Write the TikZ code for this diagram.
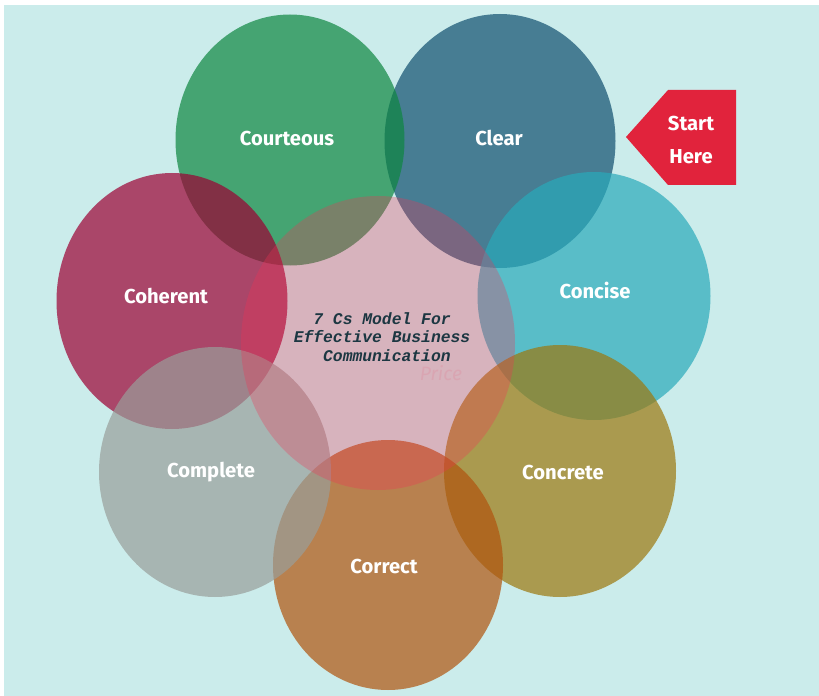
\documentclass[tikz,border=0pt]{standalone}
\usepackage{fontspec}
\setmainfont{Fira Sans}
\newfontfamily\monofont{Liberation Mono}
\usetikzlibrary{positioning}
\definecolor{bgcyan}{RGB}{203,236,235}
\definecolor{clearc}{RGB}{16,79,111}
\definecolor{courteousc}{RGB}{13,134,64}
\definecolor{concisec}{RGB}{41,170,186}
\definecolor{concretec}{RGB}{156,120,14}
\definecolor{correctc}{RGB}{177,84,14}
\definecolor{completec}{RGB}{153,158,154}
\definecolor{coherentc}{RGB}{156,0,50}
\definecolor{hubc}{RGB}{243,49,85}
\definecolor{startc}{RGB}{225,35,60}
\definecolor{hubtext}{RGB}{28,55,66}
\tikzset{
	bubble/.style={fill=#1, fill opacity=0.7},
	lbl/.style={text=white, font=\fontsize{11.5}{13}\selectfont\bfseries},
	hubtxt/.style={text=hubtext, align=center,
			font=\monofont\fontsize{9.3}{10.6}\selectfont\bfseries\itshape}
}

\begin{document}
\begin{tikzpicture}[x=0.02cm, y=-0.02cm]
	\useasboundingbox (0,0) rectangle (819,696);
	% Backdrop
	\fill[white] (0,0) rectangle (819,696);
	\fill[bgcyan] (4,5) rectangle (819,696);

	% Outer bubbles, back to front
	\fill[bubble=clearc] (500,141) ellipse [x radius=115.5, y radius=127];
	\fill[bubble=concisec] (594,296) ellipse [x radius=116.5, y radius=124];
	\fill[bubble=concretec] (560,471) ellipse [x radius=116, y radius=126];
	\fill[bubble=correctc] (388,565) ellipse [x radius=115, y radius=125];
	\fill[bubble=courteousc] (290,140) ellipse [x radius=114.5, y radius=125.5];
	\fill[bubble=coherentc] (172,301) ellipse [x radius=115.5, y radius=128];
	\fill[bubble=completec] (215,472) ellipse [x radius=116, y radius=125];

	% Centre bubble
	\fill[hubc, fill opacity=0.3] (378,343) ellipse [x radius=137, y radius=147];

	% Labels
	\node[lbl] (courteous) at (287,138) {Courteous};
	\node[lbl] (clear) at (499,138) {Clear};
	\node[lbl] (concise) at (595,290) {Concise};
	\node[lbl] (concrete) at (563,472) {Concrete};
	\node[lbl] (correct) at (384,566) {Correct};
	\node[lbl] (complete) at (211,472) {Complete};
	\node[lbl] (coherent) at (166,296) {Coherent};

	\node[hubtxt] (hub) at (382,337) {7 Cs Model For\\Effective Business\\\ Communication};
	\node[text=hubc, opacity=0.1, font=\fontsize{11}{12}\selectfont\itshape] (price) at (441,373) {Price};

	% Start marker
	\coordinate (tip) at (626,137);
	\fill[startc] (tip) -- (668,90) -- (736,90) -- (736,185) -- (668,185) -- cycle;
	\node[lbl, align=center, font=\fontsize{11.5}{19}\selectfont\bfseries] (start) at (691,140) {Start\\Here};
\end{tikzpicture}
\end{document}
